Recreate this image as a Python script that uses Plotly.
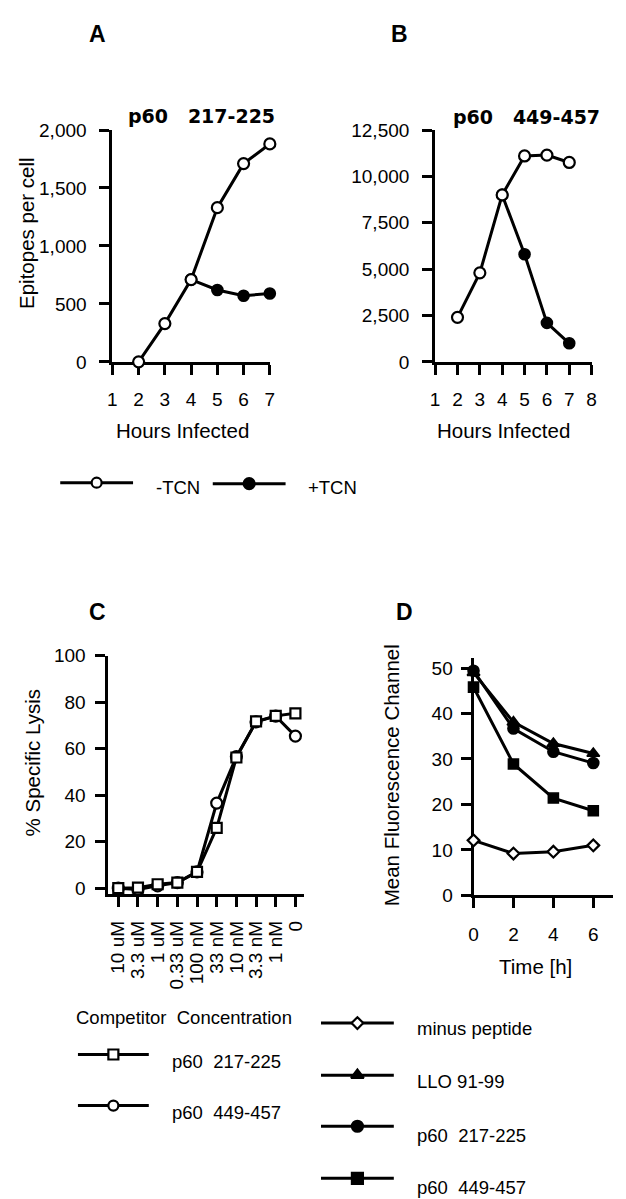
import plotly.graph_objects as go

W, H = 626, 1199

# ---------------- data ----------------
# Panel A  (p60 217-225, epitopes per cell)
hours_a_minus = [2, 3, 4, 5, 6, 7]
a_minus_tcn = [0, 330, 710, 1330, 1710, 1880]
hours_a_plus = [4, 5, 6, 7]
a_plus_tcn = [710, 620, 570, 590]

# Panel B  (p60 449-457, epitopes per cell)
hours_b_minus = [2, 3, 4, 5, 6, 7]
b_minus_tcn = [2400, 4800, 9000, 11100, 11150, 10750]
hours_b_plus = [4, 5, 6, 7]
b_plus_tcn = [9000, 5800, 2100, 1000]

# Panel C  (% specific lysis vs competitor concentration)
conc_labels = ["10 uM", "3.3 uM", "1 uM", "0.33 uM", "100 nM",
               "33 nM", "10 nM", "3.3 nM", "1 nM", "0"]
lysis_217 = [0.0, 0.2, 1.7, 2.4, 7.0, 25.9, 56.2, 71.7, 74.1, 75.2]
lysis_449 = [0.0, -0.6, 1.0, 2.4, 7.0, 36.6, 56.6, 71.5, 74.0, 65.4]

# Panel D  (mean fluorescence channel vs time)
time_h = [0, 2, 4, 6]
mfc_minus = [12.1, 9.2, 9.6, 11.0]
mfc_llo = [49.0, 38.1, 33.4, 31.2]
mfc_217 = [49.4, 36.7, 31.6, 29.1]
mfc_449 = [45.8, 28.9, 21.4, 18.6]

# ---------------- helpers ----------------
FONT = "Liberation Sans, Arial, sans-serif"
BOLD = "DejaVu Sans, sans-serif"
NB = "\u00a0"


def xd(a, b):
    return [a / W, b / W]


def yd(top, bottom):
    return [1 - bottom / H, 1 - top / H]


def px(x):
    return x / W


def py(y):
    return 1 - y / H


LW = 3
fig = go.Figure()


def series(x, y, sym, size, xa, ya, lw=1.6, fill="black"):
    fig.add_trace(go.Scatter(
        x=x, y=y, mode="lines+markers", xaxis=xa, yaxis=ya,
        line=dict(color="black", width=LW),
        marker=dict(symbol=sym, size=size, color=fill,
                    line=dict(color="black", width=lw)),
        cliponaxis=False, showlegend=False, hoverinfo="x+y"))


# Panel A
series(hours_a_plus, a_plus_tcn, "circle", 11, "x", "y")
series(hours_a_minus, a_minus_tcn, "circle", 11, "x", "y", lw=2.2, fill="white")
# Panel B
series(hours_b_plus, b_plus_tcn, "circle", 11, "x2", "y2")
series(hours_b_minus, b_minus_tcn, "circle", 11, "x2", "y2", lw=2.2, fill="white")
# Panel C
cx = list(range(len(conc_labels)))
series(cx, lysis_449, "circle", 11, "x3", "y3", lw=2.2, fill="white")
series(cx, lysis_217, "square", 10, "x3", "y3", lw=2.2, fill="white")
# Panel D
series(time_h, mfc_minus, "diamond", 9, "x4", "y4", lw=2.2, fill="white")
series(time_h, mfc_llo, "triangle-up", 11, "x4", "y4")
series(time_h, mfc_217, "circle", 11, "x4", "y4")
series(time_h, mfc_449, "square", 10, "x4", "y4")

# ---------------- legend samples (helper axis in pixel units) ----------------
legend_items = [
    # (x0, x1, y, symbol, size, fill)
    (48, 122, 473, "circle", 10, "white"),
    (203, 277, 474, "circle", 11, "black"),
    (66, 138, 1055, "square", 10, "white"),
    (66, 138, 1107, "circle", 10, "white"),
    (313, 387, 1023, "diamond", 9, "white"),
    (313, 387, 1076, "triangle-up", 11, "black"),
    (313, 387, 1128, "circle", 11, "black"),
    (313, 387, 1181, "square", 11, "black"),
]
for x0, x1, yy, sym, sz, fill in legend_items:
    fig.add_trace(go.Scatter(x=[x0, x1], y=[yy, yy], mode="lines",
                             line=dict(color="black", width=LW),
                             xaxis="x5", yaxis="y5", showlegend=False,
                             hoverinfo="skip", cliponaxis=False))
    fig.add_trace(go.Scatter(x=[(x0 + x1) / 2], y=[yy], mode="markers",
                             marker=dict(symbol=sym, size=sz, color=fill,
                                         line=dict(color="black", width=2.2)),
                             xaxis="x5", yaxis="y5", showlegend=False,
                             hoverinfo="skip", cliponaxis=False))

# ---------------- axes ----------------
tickfont = dict(family=FONT, size=19, color="black")
common = dict(showline=True, linewidth=LW, linecolor="black", ticks="outside",
              ticklen=10, tickwidth=LW, tickcolor="black", showgrid=False,
              zeroline=False, tickfont=tickfont, layer="below traces",
              fixedrange=True)

fig.update_layout(
    xaxis=dict(domain=xd(101, 261), range=[1, 7], tickvals=list(range(1, 8)),
               anchor="y", ticklabelstandoff=8, **common),
    yaxis=dict(domain=yd(114, 350), range=[0, 2000],
               tickvals=[0, 500, 1000, 1500, 2000], tickformat=",d",
               anchor="x", ticklabelstandoff=9, **common),
    xaxis2=dict(domain=xd(429, 588), range=[1, 8], tickvals=list(range(1, 9)),
                anchor="y2", ticklabelstandoff=8, **common),
    yaxis2=dict(domain=yd(114, 350), range=[0, 12500],
                tickvals=[0, 2500, 5000, 7500, 10000, 12500], tickformat=",d",
                anchor="x2", ticklabelstandoff=9, **common),
    xaxis3=dict(domain=xd(97, 296), range=[-0.5, 9.45], tickvals=cx,
                ticktext=conc_labels, tickangle=-90, anchor="y3",
                ticklabelstandoff=6, **common),
    yaxis3=dict(domain=yd(649, 892), range=[-2.66, 100],
                tickvals=[0, 20, 40, 60, 80, 100], anchor="x3",
                ticklabelstandoff=6, **common),
    xaxis4=dict(domain=xd(468, 610), range=[0, 7], tickvals=[0, 2, 4, 6],
                anchor="y4", ticklabelstandoff=10, **common),
    yaxis4=dict(domain=yd(651, 893), range=[0, 52.3],
                tickvals=[0, 10, 20, 30, 40, 50], anchor="x4",
                ticklabelstandoff=4, **common),
    xaxis5=dict(domain=[0, 1], range=[0, W], visible=False, fixedrange=True,
                anchor="y5"),
    yaxis5=dict(domain=[0, 1], range=[H, 0], visible=False, fixedrange=True,
                anchor="x5"),
    width=W, height=H, margin=dict(l=0, r=0, t=0, b=0),
    paper_bgcolor="white", plot_bgcolor="rgba(0,0,0,0)",
    showlegend=False,
)

# ---------------- text ----------------
ann = []


def text(x, y, s, size=19, family=FONT, anchor="center", angle=0, bold=False):
    ann.append(dict(x=px(x), y=py(y), xref="paper", yref="paper", text=s,
                    showarrow=False, xanchor=anchor, yanchor="middle",
                    textangle=angle,
                    font=dict(family=family, size=size, color="black",
                              weight="bold" if bold else "normal")))


# panel letters
text(86, 16, "A", size=23, bold=True)
text(393, 16, "B", size=23, bold=True)
text(86, 605, "C", size=23, bold=True)
text(398, 605, "D", size=23, bold=True)

# panel titles
text(192, 100, "p60" + NB * 3 + "217-225", size=19, family=BOLD, bold=True)
text(522, 101, "p60" + NB * 3 + "449-457", size=19, family=BOLD, bold=True)

# axis titles
text(172, 420, "Hours Infected", size=20.5)
text(498, 420, "Hours Infected", size=20.5)
text(13, 219, "Epitopes per cell", size=20.5, angle=-90)
text(20, 758, "%" + NB + "Specific" + NB + "Lysis", size=20.5, angle=-90)
text(385, 771, "Mean Fluorescence Channel", size=20.5, angle=-90)
text(531, 965, "Time [h]", size=20.5)

# legend labels
text(143, 478, "-TCN", size=18.5, anchor="left")
text(298, 478, "+TCN", size=18.5, anchor="left")
text(62, 1017, "Competitor" + NB + " Concentration", size=18.5, anchor="left")
text(160, 1062, "p60" + NB + " 217-225", size=18.5, anchor="left")
text(160, 1114, "p60" + NB + " 449-457", size=18.5, anchor="left")
text(409, 1029, "minus peptide", size=18.5, anchor="left")
text(409, 1082, "LLO" + NB + "91-99", size=18.5, anchor="left")
text(409, 1137, "p60" + NB + " 217-225", size=18.5, anchor="left")
text(409, 1190, "p60" + NB + " 449-457", size=18.5, anchor="left")

fig.update_layout(annotations=ann)

fig.write_html("out.html")
